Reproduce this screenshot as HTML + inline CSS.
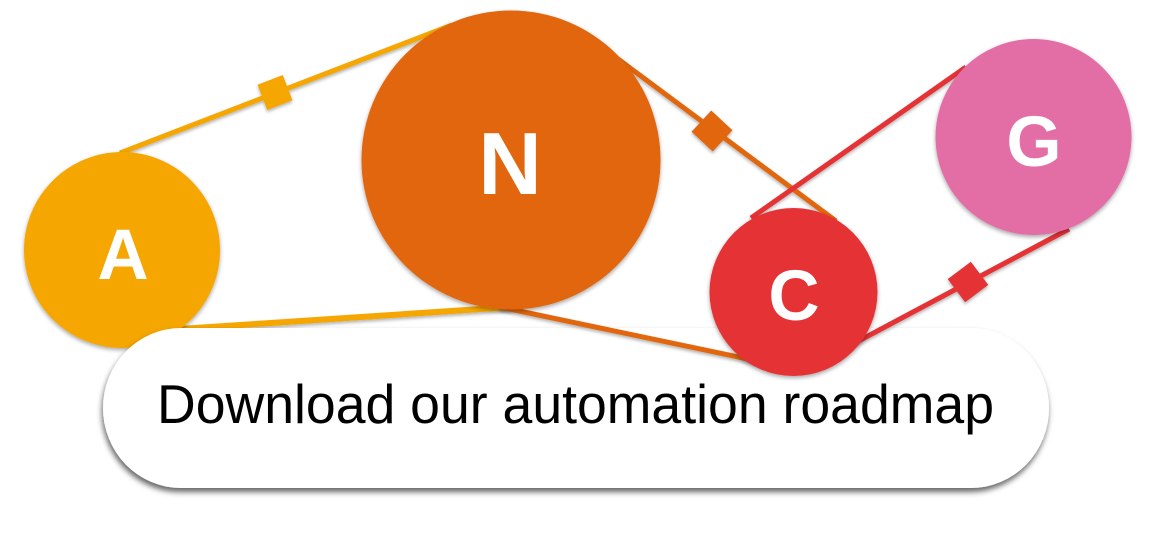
<!DOCTYPE html>
<html>
<head>
<meta charset="utf-8">
<style>
  html, body { margin: 0; padding: 0; background: #ffffff; }
  body { width: 1152px; height: 534px; overflow: hidden; }
  svg { display: block; }
</style>
</head>
<body>
<svg width="1152" height="534" viewBox="0 0 1152 534" xmlns="http://www.w3.org/2000/svg">
  <defs>
    <filter id="sh" x="-20%" y="-20%" width="140%" height="140%">
      <feDropShadow dx="0" dy="2" stdDeviation="2.2" flood-color="#000" flood-opacity="0.35"/>
    </filter>
    <filter id="shl" x="-10%" y="-30%" width="120%" height="160%">
      <feDropShadow dx="0" dy="2" stdDeviation="1.5" flood-color="#000" flood-opacity="0.3"/>
    </filter>
    <filter id="btn" x="-10%" y="-20%" width="120%" height="150%">
      <feDropShadow dx="-1" dy="4" stdDeviation="3" flood-color="#000" flood-opacity="0.6"/>
    </filter>
  </defs>
  <rect width="1152" height="534" fill="#ffffff"/>

  <!-- A -> N lines (behind A and button) -->
  <g filter="url(#shl)">
    <line x1="120" y1="153" x2="452" y2="25" stroke="#F5A600" stroke-width="5"/>
    <rect x="-13.5" y="-13.5" width="27" height="27" fill="#F5A600" transform="translate(275 92.5) rotate(-21)"/>
    <line x1="150" y1="331" x2="512" y2="307" stroke="#F5A600" stroke-width="6"/>
  </g>

  <!-- A circle -->
  <g filter="url(#sh)">
    <circle cx="122" cy="250" r="98" fill="#F5A600"/>
  </g>
  <text x="123" y="279" text-anchor="middle" font-family="'Liberation Sans', sans-serif" font-weight="bold" font-size="71" fill="#ffffff">A</text>

  <!-- Button -->
  <g filter="url(#btn)">
    <rect x="103" y="328" width="946" height="160" rx="78" ry="80" fill="#ffffff"/>
  </g>
  <text x="157" y="423" textLength="837" lengthAdjust="spacingAndGlyphs" font-family="'Liberation Sans', sans-serif" font-size="55" fill="#000000">Download our automation roadmap</text>

  <!-- N -> C and C -> G lines -->
  <g filter="url(#shl)">
    <line x1="618" y1="59" x2="836" y2="221" stroke="#E1660B" stroke-width="5"/>
    <rect x="-14.5" y="-14.5" width="29" height="29" fill="#E1660B" transform="translate(712 131) rotate(43)"/>
    <line x1="500" y1="307" x2="762" y2="362" stroke="#E1660B" stroke-width="5"/>
    <line x1="751" y1="218" x2="966" y2="67" stroke="#E53235" stroke-width="5"/>
    <line x1="850" y1="345.5" x2="1069" y2="229" stroke="#E53235" stroke-width="5"/>
    <rect x="-14.5" y="-14.5" width="29" height="29" fill="#E53235" transform="translate(968 282) rotate(-37)"/>
  </g>

  <!-- N circle -->
  <g filter="url(#sh)">
    <circle cx="511" cy="160" r="149.5" fill="#E1660B"/>
  </g>
  <text x="510" y="194" text-anchor="middle" font-family="'Liberation Sans', sans-serif" font-weight="bold" font-size="88" fill="#ffffff">N</text>

  <!-- C circle -->
  <g filter="url(#sh)">
    <circle cx="793.5" cy="292" r="84" fill="#E53235"/>
  </g>
  <text x="794" y="320" text-anchor="middle" font-family="'Liberation Sans', sans-serif" font-weight="bold" font-size="71" fill="#ffffff">C</text>

  <!-- G circle -->
  <g filter="url(#sh)">
    <circle cx="1033.5" cy="137" r="98" fill="#E36EA6"/>
  </g>
  <text x="1034" y="166" text-anchor="middle" font-family="'Liberation Sans', sans-serif" font-weight="bold" font-size="71" fill="#ffffff">G</text>
</svg>
</body>
</html>
